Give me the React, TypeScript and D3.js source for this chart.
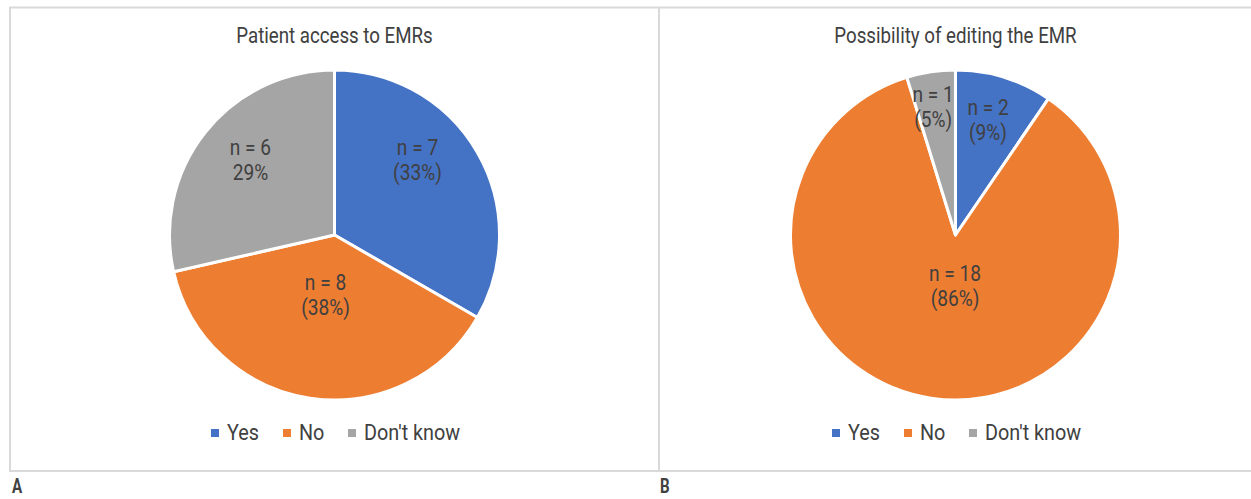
import React from "react";
import * as d3 from "d3";

// Survey answers (respondent counts) for the two questions
const categories = ["Yes", "No", "Don't know"];
const accessCounts = [7, 8, 6];
const accessLabels = ["(33%)", "(38%)", "29%"];
const editCounts = [2, 18, 1];
const editLabels = ["(9%)", "(86%)", "(5%)"];
const titles = ["Patient access to EMRs", "Possibility of editing the EMR"];
const panelLetters = ["A", "B"];

const colors = ["#4472C4", "#ED7D31", "#A5A5A5"];
const textColor = "#404040";
const FONT = "Roboto, 'Liberation Sans', sans-serif";
const SQUEEZE = 0.87;

// Label placement: fraction of radius along slice direction, plus angular nudge (deg)
const labelLayout = [
  [
    { frac: 0.68, nudge: -12.3 },
    { frac: 0.365, nudge: 0 },
    { frac: 0.685, nudge: 3.4 },
  ],
  [
    { frac: 0.727, nudge: -1.4 },
    { frac: 0.306, nudge: -8 },
    { frac: 0.79, nudge: -1.3 },
  ],
];

const W = 1251;
const H = 499;
const R = 165;

type PanelProps = {
  counts: number[];
  pctLabels: string[];
  title: string;
  x0: number;
  x1: number;
  layout: { frac: number; nudge: number }[];
};

function Txt(props: {
  x: number;
  y: number;
  size: number;
  children: React.ReactNode;
  anchor?: string;
  weight?: string | number;
  sx?: number;
}) {
  const { x, y, size, children, anchor = "middle", weight = "normal", sx = SQUEEZE } = props;
  return (
    <text
      transform={`translate(${x},${y}) scale(${sx},1)`}
      textAnchor={anchor}
      fontFamily={FONT}
      fontSize={size}
      fontWeight={weight}
      fill={textColor}
    >
      {children}
    </text>
  );
}

function PiePanel({ counts, pctLabels, title, x0, x1, layout }: PanelProps) {
  const cx = (x0 + x1) / 2;
  const cy = 235;
  const pie = d3.pie<number>().sort(null).value((d) => d);
  const arcs = pie(counts);
  const arc = d3.arc<d3.PieArcDatum<number>>().innerRadius(0).outerRadius(R);

  // legend: coloured square, gap, label; items laid out left to right, centred
  const legendY = 440;
  const legendSqueeze = 0.9;
  const itemWidths = [30, 23, 94];
  const sq = 8;
  const gapSq = 8;
  const gapItem = 26;
  const totalW =
    itemWidths.reduce((a, b) => a + b, 0) + categories.length * (sq + gapSq) + gapItem * (categories.length - 1);
  let lx = cx - totalW / 2;
  const legendItems = categories.map((c, i) => {
    const item = { x: lx, label: c, color: colors[i] };
    lx += sq + gapSq + itemWidths[i] + gapItem;
    return item;
  });

  return (
    <g>
      <Txt x={cx} y={42.5} size={21.5}>
        {title}
      </Txt>
      <g transform={`translate(${cx},${cy})`}>
        {arcs.map((a, i) => (
          <path key={i} d={arc(a) || ""} fill={colors[i]} stroke="#ffffff" strokeWidth={3} strokeLinejoin="round" />
        ))}
        {arcs.map((a, i) => {
          const mid = (a.startAngle + a.endAngle) / 2 + (layout[i].nudge * Math.PI) / 180;
          const r = layout[i].frac * R;
          const lxp = r * Math.sin(mid);
          const lyp = -r * Math.cos(mid);
          return (
            <g key={"l" + i}>
              <Txt x={lxp} y={lyp - 4.5} size={22}>
                {`n = ${counts[i]}`}
              </Txt>
              <Txt x={lxp} y={lyp + 20.5} size={22}>
                {pctLabels[i]}
              </Txt>
            </g>
          );
        })}
      </g>
      {legendItems.map((it, i) => (
        <g key={"lg" + i}>
          <rect x={it.x} y={legendY - 11} width={sq} height={sq} fill={it.color} />
          <Txt x={it.x + sq + gapSq} y={legendY} size={22} anchor="start" sx={legendSqueeze}>
            {it.label}
          </Txt>
        </g>
      ))}
    </g>
  );
}

export default function App() {
  const left = 10;
  const mid = 659;
  const top = 7.5;
  const bottom = 471;
  return (
    <svg
      width={W}
      height={H}
      viewBox={`0 0 ${W} ${H}`}
      style={{ position: "absolute", left: 0, top: 0, background: "#ffffff" }}
    >
      <rect x={0} y={0} width={W} height={H} fill="#ffffff" />
      {/* panel frames */}
      <path
        d={`M${W + 5},${top} H${left} V${bottom} H${W + 5} M${mid},${top} V${bottom}`}
        fill="none"
        stroke="#d9d9d9"
        strokeWidth={2}
      />
      <PiePanel
        counts={accessCounts}
        pctLabels={accessLabels}
        title={titles[0]}
        x0={left}
        x1={mid}
        layout={labelLayout[0]}
      />
      <PiePanel
        counts={editCounts}
        pctLabels={editLabels}
        title={titles[1]}
        x0={mid}
        x1={1252}
        layout={labelLayout[1]}
      />
      <Txt x={12} y={493} size={21} anchor="start" weight="bold" sx={0.72}>
        {panelLetters[0]}
      </Txt>
      <Txt x={660} y={493} size={21} anchor="start" weight="bold" sx={0.72}>
        {panelLetters[1]}
      </Txt>
    </svg>
  );
}
